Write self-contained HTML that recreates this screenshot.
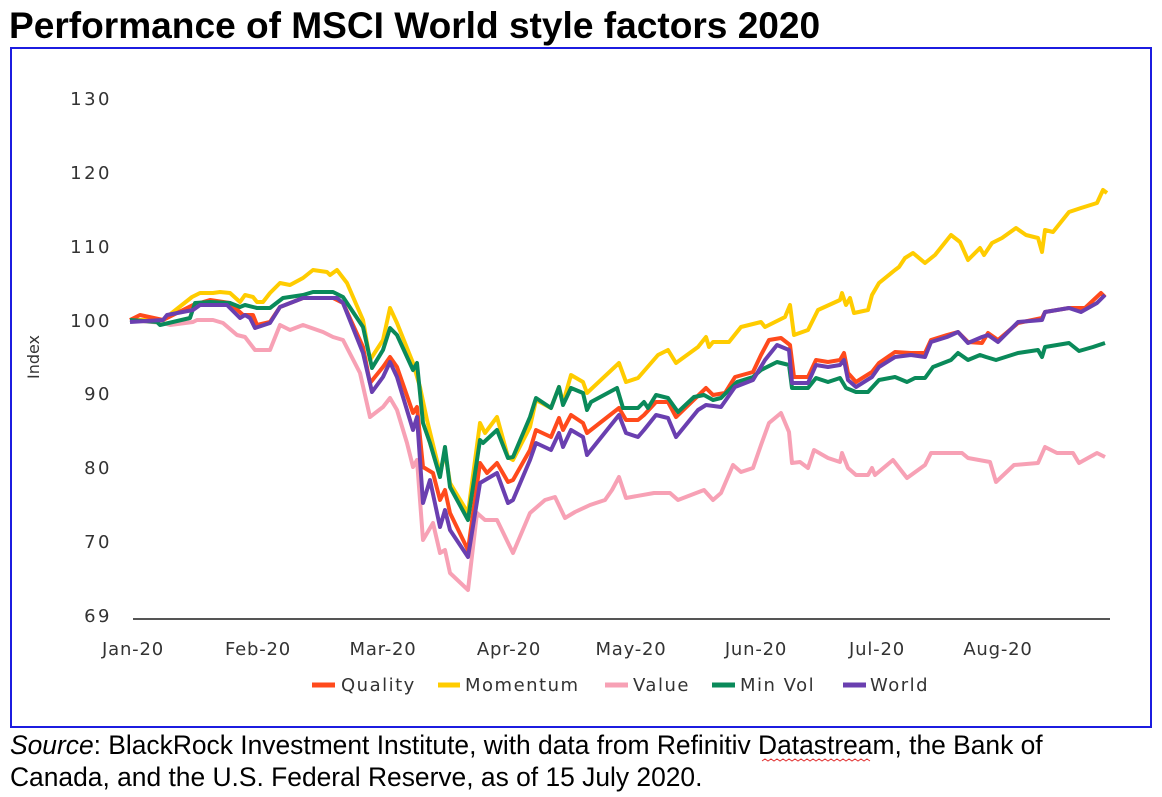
<!DOCTYPE html>
<html><head><meta charset="utf-8"><style>
body{margin:0;width:1162px;height:797px;background:#fff;overflow:hidden;font-family:"Liberation Sans",Arial,sans-serif;}
</style></head><body>
<svg width="1162" height="797" xmlns="http://www.w3.org/2000/svg" style="position:absolute;left:0;top:0">
<text x="9" y="38" font-size="37.1" font-weight="bold" font-family="Liberation Sans, Arial, sans-serif" fill="#000">Performance of MSCI World style factors 2020</text>
<rect x="11" y="48" width="1140" height="679" fill="none" stroke="#1c1ce0" stroke-width="2"/>
<g font-size="18" fill="#333" font-family="DejaVu Sans, sans-serif" text-anchor="end" letter-spacing="2.5">
<text x="112" y="105">130</text><text x="112" y="179">120</text><text x="112" y="253">110</text>
<text x="112" y="327">100</text><text x="112" y="400">90</text><text x="112" y="474">80</text>
<text x="112" y="548">70</text><text x="112" y="622">69</text>
</g>
<text transform="translate(39,357) rotate(-90)" font-size="16" font-family="DejaVu Sans, sans-serif" fill="#333" text-anchor="middle">Index</text>
<line x1="133" y1="619" x2="1110" y2="619" stroke="#555" stroke-width="2"/>
<g font-size="18" fill="#333" text-anchor="middle" font-family="DejaVu Sans, sans-serif" letter-spacing="0.8">
<text x="133" y="655">Jan-20</text><text x="258" y="655">Feb-20</text><text x="383" y="655">Mar-20</text>
<text x="509" y="655">Apr-20</text><text x="631" y="655">May-20</text><text x="756" y="655">Jun-20</text>
<text x="877" y="655">Jul-20</text><text x="998" y="655">Aug-20</text>
</g>
<g fill="none" stroke-width="4" stroke-linejoin="round">
<polyline stroke="#f7a1b5" points="130,320 163,323 170,325 193,322 197,320 213,320 223,323 237,335 245,337 255,350 270,350 280,325 290,330 303,325 323,332 333,337 343,340 360,373 370,417 383,407 390,398 397,410 407,443 413,467 417,460 423,540 433,523 440,553 445,550 450,573 468,590 477,513 485,520 497,520 513,553 530,513 545,500 555,497 565,518 575,512 590,505 605,500 612,490 619,477 626,498 654,493 670,493 678,500 704,490 713,500 721,493 733,465 741,472 753,468 761,445 769,423 781,413 789,432 792,463 800,462 808,468 814,450 828,458 840,462 842,453 848,468 856,475 868,475 872,468 875,475 893,460 907,478 925,465 931,453 962,453 968,458 990,462 996,482 1014,465 1038,463 1045,447 1057,453 1073,453 1079,463 1097,453 1105,457"/>
<polyline stroke="#ffcc00" points="130,320 163,320 192,297 200,293 213,293 220,292 230,293 240,302 245,295 253,297 257,302 263,302 270,293 280,283 290,285 303,278 313,270 327,272 330,275 337,270 347,283 363,320 370,360 383,340 390,308 397,323 413,363 420,387 427,420 440,473 445,452 450,483 468,513 480,423 485,433 497,417 508,457 513,460 530,427 536,400 551,408 559,387 563,403 571,375 583,382 587,393 619,363 626,382 638,378 658,355 668,350 676,363 698,347 706,337 709,347 713,342 729,342 741,327 761,322 765,327 785,317 790,305 794,335 808,330 818,310 840,300 842,293 846,305 850,298 854,313 868,310 872,295 879,283 895,270 899,267 905,258 913,253 925,263 935,255 951,235 960,242 968,260 980,248 984,255 992,243 1002,238 1016,228 1026,235 1038,238 1042,252 1045,230 1053,232 1069,212 1081,208 1097,203 1103,190 1107,193"/>
<polyline stroke="#ff4a1c" points="130,320 140,315 163,320 193,305 210,300 230,303 243,315 253,315 257,325 270,322 280,307 303,298 333,298 343,303 363,347 370,383 383,367 390,357 397,367 413,413 417,407 423,467 433,473 440,500 445,490 450,513 468,550 480,463 487,473 497,463 508,482 513,480 530,450 536,430 551,437 559,418 563,430 571,415 583,423 587,433 619,408 626,420 638,420 644,415 656,402 668,402 676,417 706,388 713,395 725,393 735,377 753,372 761,355 769,340 781,338 790,345 794,377 808,377 816,360 828,362 840,360 844,353 848,373 856,382 872,372 879,363 895,352 911,353 925,353 931,340 947,335 958,332 968,342 982,343 988,333 998,340 1018,323 1042,318 1045,312 1069,308 1085,308 1101,293 1105,297"/>
<polyline stroke="#0a8a5a" points="130,320 157,322 160,325 190,318 195,303 210,302 230,303 240,307 245,305 257,308 270,308 283,298 303,295 313,292 333,292 343,297 363,327 372,368 383,350 390,328 397,335 413,370 417,363 423,423 430,443 440,477 445,447 450,487 468,520 480,440 483,443 497,430 508,458 513,457 530,417 536,398 551,408 559,387 563,405 571,388 583,393 587,410 591,402 617,388 623,408 638,408 644,402 648,408 656,395 668,398 678,412 694,397 704,395 713,400 721,398 737,382 753,377 761,370 777,362 789,365 792,388 808,388 816,378 828,382 840,378 846,388 856,392 868,392 879,380 895,377 907,382 915,378 925,378 933,367 951,360 958,353 968,360 980,355 986,357 996,360 1018,353 1038,350 1042,357 1045,347 1069,343 1079,351 1093,347 1105,343"/>
<polyline stroke="#6a3fb0" points="130,322 163,320 167,315 193,310 200,305 227,305 240,318 245,315 250,318 255,328 270,323 280,307 303,298 337,298 343,303 363,353 372,392 383,377 390,362 397,377 413,430 417,417 423,503 430,480 440,527 445,510 450,530 468,557 480,483 497,473 508,503 513,500 530,460 536,443 551,450 559,433 563,447 571,430 583,437 587,455 619,415 626,433 638,437 644,430 656,415 668,418 676,437 698,410 706,405 721,407 735,387 753,380 765,360 777,345 789,350 792,383 808,383 816,365 828,367 840,365 844,360 848,380 856,387 872,377 879,367 895,357 911,355 925,357 931,342 947,337 958,332 968,343 982,337 988,335 998,342 1018,322 1042,320 1045,312 1069,308 1081,312 1097,303 1105,295"/>
</g>
<g stroke-width="5">
<line x1="312" y1="685" x2="335" y2="685" stroke="#ff4a1c"/>
<line x1="438" y1="685" x2="460" y2="685" stroke="#ffcc00"/>
<line x1="605" y1="685" x2="628" y2="685" stroke="#f7a1b5"/>
<line x1="712" y1="685" x2="735" y2="685" stroke="#0a8a5a"/>
<line x1="843" y1="685" x2="866" y2="685" stroke="#6a3fb0"/>
</g>
<g font-size="18" fill="#333" font-family="DejaVu Sans, sans-serif" letter-spacing="1.5">
<text x="341" y="691">Quality</text><text x="465" y="691">Momentum</text><text x="633" y="691">Value</text>
<text x="740" y="691">Min Vol</text><text x="870" y="691">World</text>
</g>
<text x="10" y="754" font-size="26.4" fill="#000"><tspan font-style="italic">Source</tspan>: BlackRock Investment Institute, with data from Refinitiv Datastream, the Bank of</text>
<text x="10" y="786" font-size="26.4" fill="#000">Canada, and the U.S. Federal Reserve, as of 15 July 2020.</text>
<path d="M762 761 l3 -2 l3 2 l3 -2 l3 2 l3 -2 l3 2 l3 -2 l3 2 l3 -2 l3 2 l3 -2 l3 2 l3 -2 l3 2 l3 -2 l3 2 l3 -2 l3 2 l3 -2 l3 2 l3 -2 l3 2 l3 -2 l3 2 l3 -2 l3 2 l3 -2 l3 2 l3 -2 l3 2 l3 -2 l3 2 l3 -2 l3 2 l3 -2 l3 2" stroke="#e03030" fill="none" stroke-width="1"/>
</svg>
</body></html>
